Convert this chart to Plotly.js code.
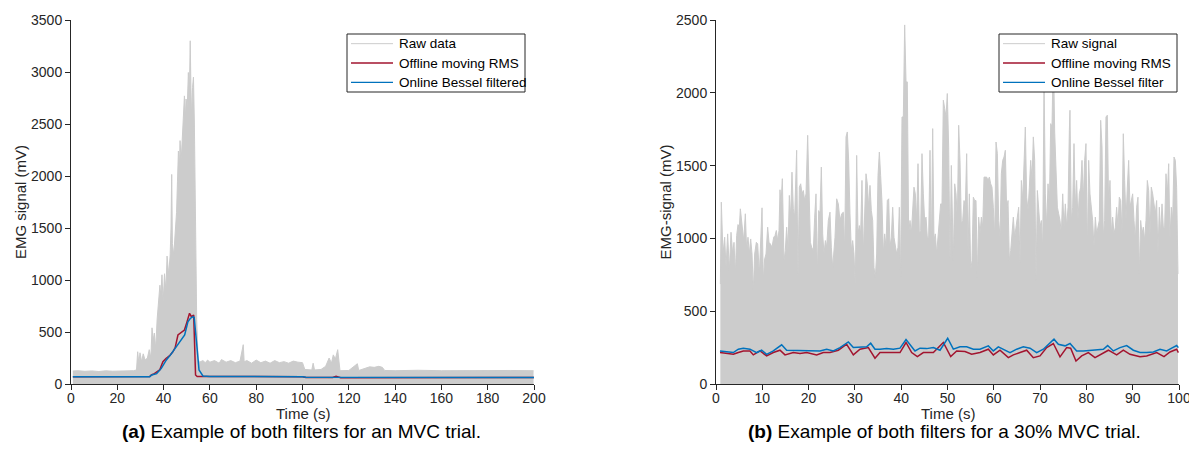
<!DOCTYPE html>
<html>
<head>
<meta charset="utf-8">
<script src="https://cdn.plot.ly/plotly-3.0.1.min.js"></script>
<style>html,body{margin:0;padding:0;background:#fff;}#chart{width:1189px;height:468px;}</style>
</head>
<body>
<div id="chart"></div>
<script>
// ---------- Panel (a): MVC trial ----------
const rawA_t = [0.8,3,6,9,12,15,18,21,24,27,28.3,28.8,29.3,29.8,30.5,31.2,32,33,33.8,34.5,35,35.5,36,36.6,37.2,37.8,38.4,38.8,39.3,39.8,40.4,41,41.5,42.2,42.8,43.2,43.5,43.8,44.4,45,45.6,46,46.4,46.8,47.1,47.6,48.1,48.6,49,49.4,49.7,50.2,50.7,51.1,51.5,51.8,52.1,52.5,52.9,53.3,53.9,54.3,54.9,55.5,57,58,59,60,62,64,65,67,69,71,73,74.4,74.8,76,78,80,82,84,86,88,90,92,94,96,98,100,101,104,104.6,105.2,108,110,111.5,112.5,113.3,114.2,115.2,115.8,116.2,120,123.7,124.3,127,129,131,133,134.5,135.5,140,150,160,170,180,190,199.8];
const rawA_v = [125,128,122,126,120,127,123,126,122,128,135,310,200,300,215,290,230,250,330,250,540,420,490,340,620,800,950,850,1050,780,1060,900,1230,1050,1230,1500,2015,1350,1240,1450,1650,1950,2240,2050,2340,2150,2420,2600,2770,2550,2740,2650,2995,2750,3300,2850,2550,2850,2950,2500,1260,620,240,210,225,205,230,210,225,200,235,210,225,205,220,378,215,225,200,230,205,220,200,225,205,215,200,220,210,205,140,135,200,135,140,170,250,200,280,240,330,200,128,130,195,130,150,165,160,170,160,130,128,132,128,130,128,130,128];

const rmsA_t = [0.8,20,34,34.7,36,38.3,39.7,41,42.5,44,45,46.2,47.5,49,50,51.2,52,53,53.8,54.5,60,100,101.5,113,114.5,115.5,116.5,200];
const rmsA_v = [70,70,72,87,100,135,215,245,270,310,350,471,490,519,590,680,647,663,87,72,72,70,62,62,75,70,60,62];

const besA_t = [0.8,34,34.9,37,39,41.2,43,45.5,47,49.1,50.5,51.5,52.7,53.2,54.4,55.3,57,60,100,101.5,200];
const besA_v = [70,70,87,100,150,231,280,359,400,471,599,630,647,640,359,135,77,72,70,65,62];

// ---------- Panel (b): 30% MVC trial ----------
const rawB_t = [0.94,1.15,1.51,1.87,2.16,2.52,2.88,3.24,3.60,3.89,4.18,4.46,4.75,5.04,5.26,5.62,5.98,6.34,6.62,6.91,7.20,7.49,7.78,8.06,8.35,8.71,9.00,9.36,9.65,9.94,10.22,10.51,10.80,11.16,11.45,11.74,12.10,12.46,12.74,13.03,13.32,13.61,13.82,14.04,14.33,14.69,14.97,15.26,15.55,15.84,16.13,16.41,16.70,16.99,17.42,17.71,18.00,18.29,18.58,18.86,19.15,19.44,19.80,20.09,20.38,20.66,21.02,21.31,21.60,21.89,22.17,22.46,22.75,23.04,23.33,23.62,23.90,24.26,24.62,24.91,25.20,
25.70,26.06,26.42,26.78,27.14,27.50,27.79,28.08,28.36,28.65,28.94,29.23,29.52,29.80,30.09,30.38,30.67,30.96,31.24,31.53,31.82,32.11,32.40,32.68,32.97,33.26,33.55,33.84,34.12,34.41,34.70,34.99,35.28,35.56,35.85,36.14,36.43,36.72,37.00,37.29,37.58,37.87,38.16,38.44,38.73,39.02,39.31,39.60,39.88,40.17,40.46,40.75,41.04,41.32,41.61,41.90,42.19,42.48,42.76,43.05,43.34,43.63,43.92,44.20,44.49,44.78,45.07,45.36,45.64,45.93,46.22,46.51,46.80,47.08,47.37,47.66,47.95,48.24,48.52,48.81,49.10,49.39,49.68,49.96,50.25,50.54,50.83,
51.26,51.55,51.84,52.13,52.41,52.70,52.99,53.28,53.57,53.85,54.14,54.43,54.72,55.01,55.29,55.58,55.87,56.16,56.45,56.73,57.02,57.31,57.60,57.89,58.17,58.46,58.75,59.04,59.33,59.61,59.90,60.19,60.48,60.77,61.05,61.34,61.63,61.92,62.21,62.49,62.78,63.07,63.36,63.65,63.93,64.22,64.51,64.80,65.09,65.37,65.66,65.95,66.24,66.53,66.81,67.10,67.39,67.68,67.97,68.25,68.54,68.83,69.12,69.41,69.69,69.98,70.27,70.56,70.85,71.13,71.42,71.71,72.00,72.29,72.57,72.86,73.15,73.44,73.73,74.01,74.30,74.59,74.88,75.17,75.45,75.74,76.03,76.32,
76.45,76.74,77.03,77.32,77.61,77.89,78.18,78.47,78.76,79.05,79.33,79.62,79.91,80.20,80.49,80.77,81.06,81.35,81.64,81.93,82.21,82.50,82.79,83.08,83.37,83.65,83.94,84.23,84.52,84.81,85.09,85.38,85.67,85.96,86.25,86.53,86.82,87.11,87.40,87.69,87.97,88.26,88.55,88.84,89.13,89.41,89.70,89.99,90.28,90.57,90.85,91.14,91.43,91.72,92.01,92.29,92.58,92.87,93.16,93.45,93.73,94.02,94.31,94.60,94.89,95.17,95.46,95.75,96.04,96.33,96.61,96.90,97.19,97.48,97.77,98.05,98.34,98.63,98.92,99.21,99.49,99.78];
const rawB_v = [686,1249,893,1008,801,1031,778,1042,893,973,755,1019,1095,1077,1203,1100,985,1169,916,1008,893,996,893,640,893,973,962,755,939,1210,709,859,893,1077,973,962,939,1008,1019,1054,985,1054,1334,1237,1410,847,916,1077,916,1295,1146,1455,1203,1146,1605,732,1352,1375,1306,1329,1260,1306,1708,1398,973,939,916,1146,1306,732,1191,1169,1490,1031,893,985,939,1123,1180,939,801,
1008,1272,1237,1123,1169,1180,916,1697,1731,1536,1169,916,985,893,663,1570,1031,1088,1031,1398,893,1180,1444,1375,1214,1364,1191,1123,801,732,893,1432,1593,1432,1249,893,1031,939,1260,1272,939,1008,1214,1008,939,893,939,1214,732,1834,1834,2466,2075,2075,1031,1123,1031,1169,1352,1306,1123,1513,1031,1054,1582,1306,1123,1146,1008,1008,1605,893,1754,985,1031,893,1031,1169,1237,1237,1949,1892,1834,1995,1628,847,1501,
847,1375,1306,1123,1777,1536,1100,1123,1260,1214,1582,893,1306,778,847,1283,1260,1260,732,1146,1031,1146,1077,1421,1421,1421,1398,1421,1375,1352,1214,1008,1662,1582,1123,1008,1444,1536,1559,1605,1191,1260,847,916,1031,1146,1008,1077,1146,1214,824,1398,1260,1467,1765,1283,1191,1352,1536,1398,1697,1536,709,1329,1169,1077,1123,916,2100,1306,1077,1375,1214,1788,1765,2300,1731,1513,1214,1169,1123,1031,1306,1077,1237,1077,1214,1742,
1880,1123,1214,1651,1214,1398,1123,1306,1352,1536,1260,1536,1651,893,1536,1306,1214,1123,939,1146,1031,1077,1123,1811,1628,1008,1123,1834,1846,1214,1398,1031,1146,1031,1077,1214,1077,1283,1260,1031,1719,1398,1123,1352,1536,1214,1260,1306,1123,985,1214,1283,755,1123,1031,1077,985,1123,1398,1329,1008,1352,1306,1214,1169,1260,893,1214,1031,1237,1077,1077,1444,1306,1513,985,1214,1123,1559,1536,1352,755];

const besB_t = [0.86,2.30,3.74,4.82,5.90,7.34,8.78,9.86,10.94,12.38,14.18,15.26,16.70,18.14,19.58,21.02,22.46,23.90,25.34,26.78,28.58,29.66,31.10,32.54,33.41,34.34,35.42,36.86,38.30,39.74,41.04,41.90,42.98,44.06,45.50,46.94,48.38,50.04,51.26,52.70,54.14,55.58,57.02,58.82,59.90,60.98,62.06,63.50,64.94,66.38,67.82,69.26,70.70,71.78,73.00,73.94,75.38,76.46,77.90,79.34,80.78,82.22,83.66,84.59,85.82,87.26,88.70,90.14,91.58,93.02,94.46,95.90,97.34,98.42,99.5,99.86];
const besB_v = [227,223,216,239,246,239,216,232,204,227,269,232,232,227,232,227,227,239,227,250,289,250,255,255,280,239,239,243,239,246,305,273,227,246,243,250,232,314,239,255,255,239,239,262,227,255,239,216,239,255,246,216,239,273,308,273,262,278,227,227,232,239,239,264,227,250,264,232,216,216,220,239,227,246,264,250];

const rmsB_t = [0.86,2.30,3.74,4.82,5.90,7.34,8.06,9.50,10.94,12.38,13.82,14.90,16.70,18.14,19.58,21.74,23.18,24.62,26.42,28.22,29.66,31.10,32.90,34.34,35.42,36.86,39.74,41.04,42.26,43.49,44.78,46.94,49.10,50.69,51.98,53.78,55.22,57.02,58.82,59.90,61.34,63.14,64.22,65.66,67.10,68.54,69.98,71.42,72.86,74.30,75.74,76.60,77.75,78.98,80.42,81.86,83.30,84.74,86.54,87.98,89.42,91.58,93.02,95.18,96.76,98.06,99.5,99.86];
const rmsB_v = [216,209,204,216,227,227,200,227,193,216,232,200,216,209,216,200,216,216,232,273,200,239,250,177,216,216,216,285,216,188,216,216,285,188,227,223,204,216,239,200,232,181,200,216,232,181,193,250,278,186,250,246,158,193,216,181,209,232,200,232,204,188,193,216,188,220,239,216];

const xTicksA = [0,20,40,60,80,100,120,140,160,180,200];
const xTicksB = [0,10,20,30,40,50,60,70,80,90,100];
const yTicksA = [0,500,1000,1500,2000,2500,3000,3500];
const yTicksB = [0,500,1000,1500,2000,2500];

const legendA = ["Raw data", "Offline moving RMS", "Online Bessel filtered"];
const legendB = ["Raw signal", "Offline moving RMS", "Online Bessel filter"];
const captionA = "<b>(a)</b> Example of both filters for an MVC trial.";
const captionB = "<b>(b)</b> Example of both filters for a 30% MVC trial.";

const GRAY = '#cccccc', RED = '#A2142F', BLUE = '#0072BD', INK = '#262626';
const FONT = 'Liberation Sans, Arial, Helvetica, sans-serif';
const COLORS = [GRAY, RED, BLUE];
const LEG_WIDTHS = [1, 1.3, 1.3];

const traces = [
  {x: rawA_t, y: rawA_v, type: 'scatter', mode: 'lines', fill: 'tozeroy', fillcolor: GRAY,
   line: {color: GRAY, width: 1}, name: legendA[0], xaxis: 'x', yaxis: 'y'},
  {x: rmsA_t, y: rmsA_v, type: 'scatter', mode: 'lines', line: {color: RED, width: 1.5},
   name: legendA[1], xaxis: 'x', yaxis: 'y'},
  {x: besA_t, y: besA_v, type: 'scatter', mode: 'lines', line: {color: BLUE, width: 1.5},
   name: legendA[2], xaxis: 'x', yaxis: 'y'},
  {x: rawB_t, y: rawB_v, type: 'scatter', mode: 'lines', fill: 'tozeroy', fillcolor: GRAY,
   line: {color: GRAY, width: 1}, name: legendB[0], xaxis: 'x2', yaxis: 'y2'},
  {x: rmsB_t, y: rmsB_v, type: 'scatter', mode: 'lines', line: {color: RED, width: 1.5},
   name: legendB[1], xaxis: 'x2', yaxis: 'y2'},
  {x: besB_t, y: besB_v, type: 'scatter', mode: 'lines', line: {color: BLUE, width: 1.5},
   name: legendB[2], xaxis: 'x2', yaxis: 'y2'}
];

const axBase = {showline: true, linecolor: INK, linewidth: 1, ticks: 'outside', ticklen: 5,
  tickcolor: INK, tickwidth: 1, showgrid: false, zeroline: false, automargin: false,
  tickmode: 'array', ticklabeloverflow: 'allow', tickfont: {family: FONT, size: 14, color: INK}};

const titleFont = {family: FONT, size: 15, color: INK};
const W = 1189, PT = 20, PB = 384, PH = 364;
const px = v => v / W;                 // pixel x -> paper x
const py = v => (PB - v) / PH;         // pixel y -> paper y

// Legend boxes drawn as shapes + text annotations (box placement in pixels)
function legendBox(left, right, top, bottom, labels) {
  const shapes = [{type: 'rect', xref: 'paper', yref: 'paper', x0: px(left), x1: px(right),
    y0: py(bottom), y1: py(top), line: {color: INK, width: 1}, fillcolor: '#ffffff', layer: 'above'}];
  const anns = [];
  const rowH = (bottom - top) / labels.length;
  labels.forEach((lab, i) => {
    const yc = top + rowH * (i + 0.5);
    shapes.push({type: 'line', xref: 'paper', yref: 'paper', x0: px(left + 4), x1: px(left + 46),
      y0: py(yc), y1: py(yc), line: {color: COLORS[i], width: LEG_WIDTHS[i]}, layer: 'above'});
    anns.push({text: lab, xref: 'paper', yref: 'paper', x: px(left + 50), y: py(yc),
      xanchor: 'left', yanchor: 'middle', showarrow: false,
      font: {family: FONT, size: 13.5, color: '#000000'}});
  });
  return {shapes, anns};
}
const LA = legendBox(347, 525, 34, 92, legendA);
const LB = legendBox(999, 1177, 34, 92, legendB);

const layout = {
  width: 1189, height: 468,
  margin: {l: 0, r: 0, t: PT, b: 84},
  paper_bgcolor: '#ffffff', plot_bgcolor: '#ffffff',
  font: {family: FONT, color: INK},
  showlegend: false,
  xaxis: Object.assign({}, axBase, {domain: [71/W, 534/W], range: [0, 200], tickvals: xTicksA,
    ticklabelstandoff: -4, anchor: 'y'}),
  yaxis: Object.assign({}, axBase, {range: [0, 3500], tickvals: yTicksA, anchor: 'x',
    title: {text: 'EMG signal (mV)', font: titleFont}}),
  xaxis2: Object.assign({}, axBase, {domain: [716/W, 1179/W], range: [0, 100], tickvals: xTicksB,
    ticklabelstandoff: -4, anchor: 'y2'}),
  yaxis2: Object.assign({}, axBase, {range: [0, 2500], tickvals: yTicksB, anchor: 'x2',
    title: {text: 'EMG-signal (mV)', font: titleFont}}),
  shapes: LA.shapes.concat(LB.shapes),
  annotations: [
    {text: 'Time (s)', xref: 'x domain', yref: 'paper', x: 0.5, y: py(413),
     xanchor: 'center', yanchor: 'middle', showarrow: false, font: titleFont},
    {text: 'Time (s)', xref: 'x2 domain', yref: 'paper', x: 0.5, y: py(413),
     xanchor: 'center', yanchor: 'middle', showarrow: false, font: titleFont},
    {text: captionA, xref: 'paper', yref: 'paper', x: px(301), y: py(431),
     xanchor: 'center', yanchor: 'middle', showarrow: false, font: {family: FONT, size: 19, color: '#000000'}},
    {text: captionB, xref: 'paper', yref: 'paper', x: px(944), y: py(431),
     xanchor: 'center', yanchor: 'middle', showarrow: false, font: {family: FONT, size: 19, color: '#000000'}}
  ].concat(LA.anns, LB.anns)
};

Plotly.newPlot('chart', traces, layout, {staticPlot: true, displayModeBar: false});
</script>
</body>
</html>
